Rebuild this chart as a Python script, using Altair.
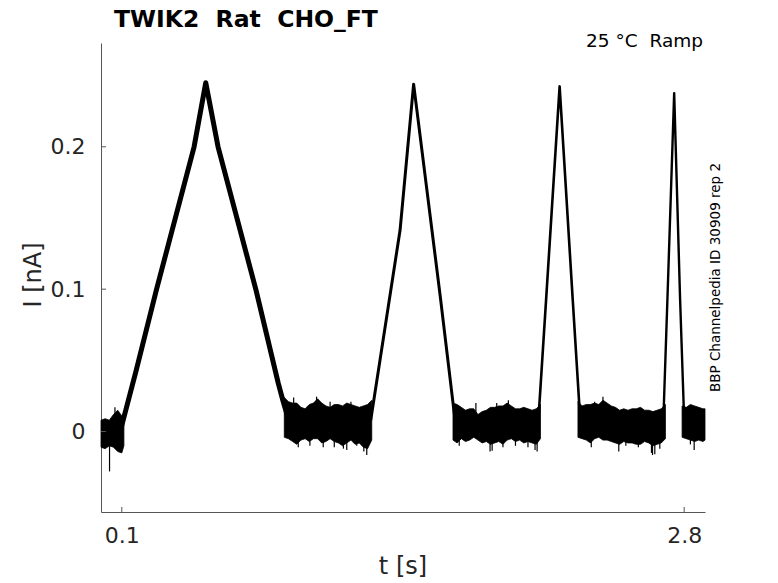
import altair as alt
import pandas as pd

# ---------------- data ----------------
# ramp centre lines (t in s, I in nA)
ramp1_t = [0.092, 0.169, 0.266, 0.447, 0.503, 0.562, 0.744, 0.851, 0.873, 0.897]
ramp1_i = [0.000, 0.043, 0.0995, 0.200, 0.245, 0.200, 0.0995, 0.034, 0.022, 0.010]
ramp2_t = [1.295, 1.436, 1.501, 1.629, 1.700]
ramp2_i = [0.008, 0.1415, 0.244, 0.0948, 0.008]
ramp3_t = [2.100, 2.138, 2.202, 2.264, 2.301]
ramp3_i = [0.008, 0.0948, 0.2424, 0.0948, 0.008]
ramp4_t = [2.700, 2.720, 2.752, 2.780, 2.800]
ramp4_i = [0.008, 0.0948, 0.2377, 0.0948, 0.008]

# baseline noise envelopes (upper / lower edge of the overlapping traces)
baseA_t = [0.00, 0.02, 0.04, 0.06, 0.08, 0.10, 0.11]
baseA_up = [0.008, 0.009, 0.008, 0.012, 0.015, 0.011, 0.012]
baseA_lo = [-0.011, -0.012, -0.010, -0.011, -0.014, -0.015, -0.010]

baseB_t = [0.88, 0.90, 0.92, 0.94, 0.96, 0.98, 1.00, 1.02, 1.04, 1.06, 1.08,
           1.10, 1.12, 1.14, 1.16, 1.18, 1.20, 1.22, 1.24, 1.26, 1.28, 1.30]
baseB_up = [0.024, 0.021, 0.020, 0.020, 0.017, 0.016, 0.019, 0.020, 0.023, 0.020, 0.018,
            0.017, 0.019, 0.019, 0.018, 0.020, 0.019, 0.018, 0.017, 0.018, 0.019, 0.022]
baseB_lo = [-0.004, -0.005, -0.007, -0.009, -0.006, -0.005, -0.007, -0.005, -0.005, -0.008, -0.007,
            -0.005, -0.007, -0.008, -0.010, -0.008, -0.006, -0.009, -0.008, -0.011, -0.012, -0.006]

baseC_t = [1.69, 1.71, 1.73, 1.75, 1.77, 1.79, 1.81, 1.83, 1.85, 1.87, 1.89,
           1.91, 1.93, 1.95, 1.97, 1.99, 2.01, 2.03, 2.05, 2.07, 2.09, 2.11]
baseC_up = [0.020, 0.019, 0.017, 0.015, 0.016, 0.016, 0.012, 0.014, 0.015, 0.017, 0.017,
            0.018, 0.018, 0.020, 0.018, 0.016, 0.016, 0.017, 0.016, 0.015, 0.016, 0.019]
baseC_lo = [-0.006, -0.008, -0.005, -0.007, -0.006, -0.004, -0.006, -0.008, -0.007, -0.009, -0.008,
            -0.007, -0.009, -0.006, -0.005, -0.007, -0.006, -0.008, -0.007, -0.008, -0.009, -0.005]

baseD_t = [2.29, 2.31, 2.33, 2.35, 2.37, 2.39, 2.41, 2.43, 2.45, 2.47, 2.49,
           2.51, 2.53, 2.55, 2.57, 2.59, 2.61, 2.63, 2.65, 2.67, 2.69, 2.71]
baseD_up = [0.021, 0.018, 0.019, 0.019, 0.020, 0.019, 0.022, 0.020, 0.018, 0.017, 0.015,
            0.016, 0.015, 0.016, 0.016, 0.017, 0.015, 0.015, 0.014, 0.015, 0.016, 0.019]
baseD_lo = [-0.004, -0.005, -0.006, -0.008, -0.005, -0.004, -0.006, -0.006, -0.007, -0.008, -0.009,
            -0.007, -0.008, -0.008, -0.009, -0.009, -0.007, -0.008, -0.010, -0.009, -0.008, -0.005]

baseE_t = [2.79, 2.81, 2.83, 2.85, 2.87, 2.89, 2.90]
baseE_up = [0.018, 0.017, 0.019, 0.018, 0.017, 0.016, 0.016]
baseE_lo = [-0.004, -0.005, -0.006, -0.007, -0.006, -0.007, -0.006]

# isolated noise spikes (time, tip value) and the level they leave from
spike_t = [0.041, 0.067, 0.925, 0.947, 1.003, 1.035, 1.067, 1.100, 1.120, 1.164, 1.180,
           1.200, 1.228, 1.262, 1.276, 1.720, 1.800, 1.868, 1.878, 1.900, 1.930, 1.956,
           1.990, 2.050, 2.084, 2.094, 2.354, 2.370, 2.410, 2.486, 2.520, 2.580, 2.643,
           2.648, 2.659, 2.683, 2.830, 2.848]
spike_tip = [-0.028, 0.017, 0.024, -0.011, -0.010, 0.0245, -0.011, 0.021, -0.011, -0.012, -0.013,
             0.021, -0.010, -0.014, -0.0165, -0.010, 0.020, -0.014, -0.0135, 0.020, -0.011, 0.022,
             -0.010, -0.011, -0.013, -0.014, -0.011, 0.021, 0.0245, -0.014, -0.010, -0.011, -0.015,
             -0.0165, -0.016, -0.012, -0.009, -0.013]
spike_base = [0.0] * 2 + [0.006] * (len(spike_t) - 2)

x_ticks = [0.1, 2.8]
y_ticks = [0.0, 0.1, 0.2]

title_text = "TWIK2 \u00a0Rat \u00a0CHO_FT"
cond_text = "25 \u00b0C \u00a0Ramp"
side_text = "BBP Channelpedia ID 30909 rep 2"
x_title = "t [s]"
y_title = "I [nA]"

# ---------------- build tables ----------------
def ramp_df(t, i):
    return pd.DataFrame({"t": t, "I": i})

bands = []
for name, (t, up, lo) in {
    "A": (baseA_t, baseA_up, baseA_lo),
    "B": (baseB_t, baseB_up, baseB_lo),
    "C": (baseC_t, baseC_up, baseC_lo),
    "D": (baseD_t, baseD_up, baseD_lo),
    "E": (baseE_t, baseE_up, baseE_lo),
}.items():
    bands.append(pd.DataFrame({"t": t, "I": lo, "I2": up, "seg": name}))
band_df = pd.concat(bands, ignore_index=True)
spike_df = pd.DataFrame({"t": spike_t, "I": spike_base, "I2": spike_tip})

FONT = "DejaVu Sans"
W, H = 604, 469

xs = alt.Scale(domain=[0, 2.9], nice=False, zero=False)
ys = alt.Scale(domain=[-0.0565, 0.2729], nice=False, zero=False)

x_axis = alt.Axis(values=x_ticks, format=".1f", title=x_title, grid=False, ticks=False,
                  domainColor="#555555", domainWidth=1, labelFont=FONT, labelFontSize=22,
                  labelColor="#262626", labelPadding=13, labelFlush=False,
                  titleFont=FONT, titleFontSize=24, titleFontWeight="normal",
                  titleColor="#262626", titleX=301.5, titleY=54, titleBaseline="middle",
                  titleAlign="center")
y_axis = alt.Axis(values=y_ticks, title=y_title, grid=False, ticks=False,
                  labelExpr="datum.value == 0 ? '0' : format(datum.value, '.1f')",
                  domainColor="#555555", domainWidth=1, labelFont=FONT, labelFontSize=22,
                  labelColor="#262626", labelPadding=16, labelFlush=False,
                  titleFont=FONT, titleFontSize=24, titleFontWeight="normal",
                  titleColor="#262626", titleX=-68, titleY=231.5, titleAngle=270,
                  titleBaseline="middle", titleAlign="center")

X = alt.X("t:Q", scale=xs, axis=x_axis)
Y = alt.Y("I:Q", scale=ys, axis=y_axis)

band_layer = alt.Chart(band_df).mark_area(color="black", stroke="black", strokeWidth=0.8).encode(
    x=X, y=Y, y2="I2:Q", detail="seg:N")

spike_layer = alt.Chart(spike_df).mark_rule(color="black", strokeWidth=1.2).encode(
    x=X, y=Y, y2="I2:Q")

def ramp_layer(t, i, w):
    return alt.Chart(ramp_df(t, i)).mark_line(color="black", strokeWidth=w,
                                             strokeJoin="round").encode(x=X, y=Y)

xt_layer = alt.Chart(pd.DataFrame({"t": x_ticks})).mark_rule(color="#555555", strokeWidth=1).encode(
    x=X, y=alt.value(H), y2=alt.value(H - 5))
yt_layer = alt.Chart(pd.DataFrame({"I": y_ticks})).mark_rule(color="#555555", strokeWidth=1).encode(
    y=Y, x=alt.value(0), x2=alt.value(5))

txt = pd.DataFrame({"k": [0]})
title_layer = alt.Chart(txt).mark_text(font=FONT, fontSize=23.5, fontWeight="bold", color="black",
                                       align="left", baseline="alphabetic").encode(
    x=alt.value(13), y=alt.value(-16), text=alt.value(title_text))
cond_layer = alt.Chart(txt).mark_text(font=FONT, fontSize=18.5, color="black",
                                      align="right", baseline="alphabetic").encode(
    x=alt.value(602), y=alt.value(4), text=alt.value(cond_text))
side_layer = alt.Chart(txt).mark_text(font=FONT, fontSize=13.5, color="black", angle=270,
                                      align="center", baseline="middle").encode(
    x=alt.value(615), y=alt.value(234.5), text=alt.value(side_text))

chart = alt.layer(
    band_layer, spike_layer,
    ramp_layer(ramp1_t, ramp1_i, 5.0),
    ramp_layer(ramp2_t, ramp2_i, 3.0),
    ramp_layer(ramp3_t, ramp3_i, 2.6),
    ramp_layer(ramp4_t, ramp4_i, 2.4),
    xt_layer, yt_layer, title_layer, cond_layer, side_layer,
).properties(
    width=W, height=H,
    autosize=alt.AutoSizeParams(type="none"),
    padding={"left": 93, "top": 35, "right": 65, "bottom": 66},
).configure_view(stroke=None)

chart.save("out.html", embed_options={"renderer": "svg", "actions": False})
